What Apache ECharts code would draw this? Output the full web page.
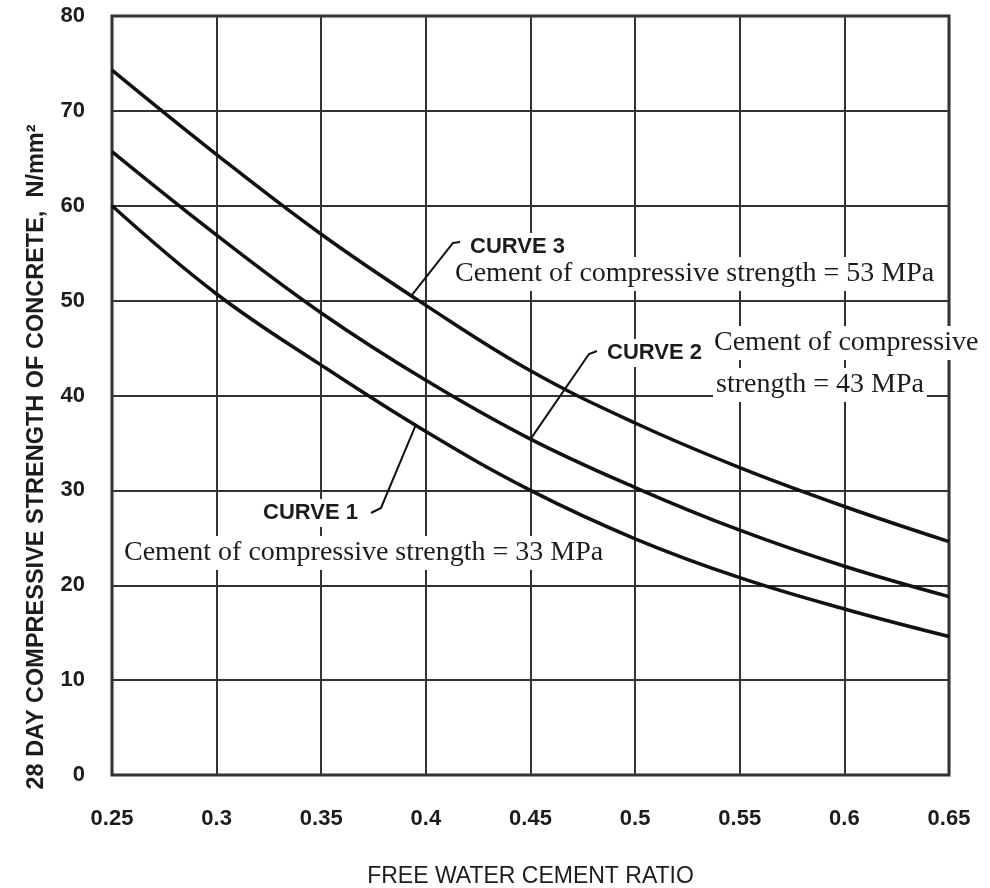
<!DOCTYPE html>
<html>
<head>
<meta charset="utf-8">
<script src="https://cdn.jsdelivr.net/npm/echarts@6/dist/echarts.min.js"></script>
<style>
html, body { margin: 0; padding: 0; background: #fff; }
#chart { width: 990px; height: 888px; }
</style>
</head>
<body>
<div id="chart"></div>
<script>
// free water cement ratio
var ratios = [0.25, 0.3, 0.35, 0.4, 0.45, 0.5, 0.55, 0.6, 0.65];
// 28 day strength, N/mm2
var curve1 = [60.0, 50.7, 43.2, 36.2, 30.0, 24.9, 20.8, 17.5, 14.6];
var curve2 = [65.7, 56.9, 48.7, 41.6, 35.4, 30.3, 25.8, 22.0, 18.8];
var curve3 = [74.3, 65.4, 57.0, 49.5, 42.6, 37.1, 32.4, 28.3, 24.6];
var xTickLabels = ['0.25', '0.3', '0.35', '0.4', '0.45', '0.5', '0.55', '0.6', '0.65'];

function pairs(vals) {
    return ratios.map(function (r, i) { return [r, vals[i]]; });
}

var sans = '"Liberation Sans", Arial, sans-serif';
var serif = '"Liberation Serif", "Times New Roman", serif';
var ink = '#1c1c1c';

var curveLine = {color: '#111', width: 3.5};

var option = {
    animation: false,
    backgroundColor: '#fff',
    grid: {
        left: 112, right: 41, top: 16, bottom: 113,
        outerBoundsMode: 'none',
        containLabel: false,
        show: true,
        borderColor: '#2a2a2a',
        borderWidth: 3
    },
    xAxis: {
        type: 'value',
        min: 0.25, max: 0.65, interval: 0.05,
        name: 'FREE WATER CEMENT RATIO',
        nameLocation: 'middle',
        nameGap: 90,
        nameTextStyle: {fontFamily: sans, fontSize: 23, color: ink},
        axisLine: {show: false},
        axisTick: {show: false},
        axisLabel: {
            margin: 33,
            fontFamily: sans, fontSize: 22, fontWeight: 'bold', color: ink,
            formatter: function (v) {
                return xTickLabels[Math.round((v - 0.25) / 0.05)];
            }
        },
        splitLine: {lineStyle: {color: '#333', width: 2}}
    },
    yAxis: {
        type: 'value',
        min: 0, max: 80, interval: 10,
        axisLine: {show: false},
        axisTick: {show: false},
        axisLabel: {margin: 27, fontFamily: sans, fontSize: 22, fontWeight: 'bold', color: ink},
        splitLine: {lineStyle: {color: '#333', width: 2}}
    },
    series: [
        {name: 'CURVE 1', type: 'line', data: pairs(curve1), smooth: 0.4, showSymbol: false, lineStyle: curveLine, z: 3},
        {name: 'CURVE 2', type: 'line', data: pairs(curve2), smooth: 0.4, showSymbol: false, lineStyle: curveLine, z: 3},
        {name: 'CURVE 3', type: 'line', data: pairs(curve3), smooth: 0.4, showSymbol: false, lineStyle: curveLine, z: 3}
    ]
};

var chart = echarts.init(document.getElementById('chart'));
chart.setOption(option);

// leader tips sit on the curves (data coords)
var tip3 = chart.convertToPixel({gridIndex: 0}, [0.393, 50.5]);
var tip2 = chart.convertToPixel({gridIndex: 0}, [0.45, 35.4]);
var tip1 = chart.convertToPixel({gridIndex: 0}, [0.395, 36.8]);

function label(text, x, y, font) {
    return {
        type: 'text', x: x, y: y, z: 10,
        style: {
            text: text, font: font, fill: ink,
            verticalAlign: 'middle', align: 'left',
            backgroundColor: '#fff', padding: [3, 3]
        }
    };
}
function leader(points) {
    return {
        type: 'polyline', z: 11,
        shape: {points: points},
        style: {stroke: '#111', lineWidth: 2, fill: null}
    };
}

chart.setOption({
    graphic: [
        {
            type: 'text', x: 37, y: 457, rotation: Math.PI / 2, z: 10,
            style: {
                text: '28 DAY COMPRESSIVE STRENGTH OF CONCRETE,  N/mm\u00b2',
                font: 'bold 23.5px ' + sans, fill: ink,
                align: 'center', verticalAlign: 'middle'
            }
        },
        label('Cement of compressive strength = 53 MPa', 452, 274, '28px ' + serif),
        label('CURVE 3', 467, 247, 'bold 22px ' + sans),
        leader([[460, 242], [453, 243], tip3]),

        label('Cement of compressive', 711, 343, '28px ' + serif),
        label('strength = 43 MPa', 713, 385, '28px ' + serif),
        label('CURVE 2', 604, 353, 'bold 22px ' + sans),
        leader([[597, 351], [589, 354], tip2]),

        label('Cement of compressive strength = 33 MPa', 121, 553, '28px ' + serif),
        label('CURVE 1', 260, 513, 'bold 22px ' + sans),
        leader([[371, 513], [381, 508], tip1])
    ]
});
</script>
</body>
</html>
